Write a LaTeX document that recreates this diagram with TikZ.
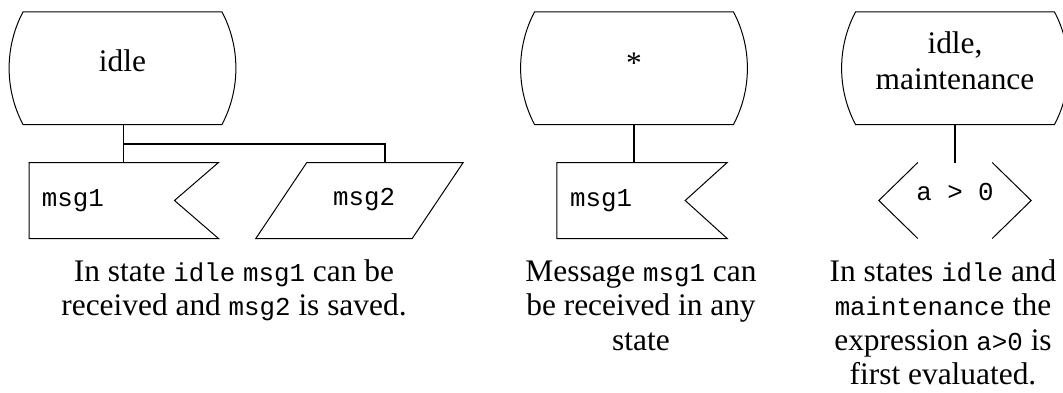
\documentclass[tikz,border=0pt]{standalone}
\usepackage{fontspec}
\setmainfont{Liberation Serif}
\setmonofont{Liberation Mono}
\usetikzlibrary{calc}
\newcommand\code[1]{{\fontsize{25.8}{34.5}\selectfont\ttfamily #1}}
\newcommand\topstrut{\rule{0pt}{24pt}}
\newcommand\drawstate[1]{%
  \draw[outline] (#1.north west)
     .. controls ($(#1.north west)+(-18.66pt,-35.15pt)$) and ($(#1.south west)+(-18.66pt,35.15pt)$) .. (#1.south west)
     -- (#1.south east)
     .. controls ($(#1.south east)+(18.66pt,35.15pt)$) and ($(#1.north east)+(18.66pt,-35.15pt)$) .. (#1.north east)
     -- cycle;}
\newcommand\drawinput[2]{%
  \draw[outline] (#1.north west) -- (#1.north east) -- ($(#1.east)+(-#2pt,0)$)
     -- (#1.south east) -- (#1.south west) -- cycle;}
\tikzset{
  outline/.style={line width=1pt, line join=miter},
  conn/.style={line width=1.2pt},
  statebox/.style={draw=none, inner sep=0pt, minimum width=198.4pt, minimum height=112.5pt},
  sigbox/.style={draw=none, inner sep=0pt, minimum height=75.6pt},
  stxt/.style={inner sep=0pt, font=\fontsize{31.4}{36}\selectfont, align=center},
  ctxt/.style={inner sep=0pt, font=\fontsize{25.8}{30}\selectfont\ttfamily},
  note/.style={inner sep=0pt, anchor=north, font=\fontsize{31.4}{34.5}\selectfont, align=center},
}
\begin{document}
\begin{tikzpicture}[x=1pt, y=-1pt]
\useasboundingbox (0,0) rectangle (1063,392);

% ---- group 1 ----
\node[statebox] (s1) at (122.5,68.2) {};
\drawstate{s1}
\node[stxt, anchor=base] (s1t) at (122.5,71) {idle};
\node[sigbox, minimum width=189pt] (m1) at (123.8,200.5) {};
\drawinput{m1}{44}
\node[ctxt, anchor=base west] (m1t) at (41.7,206) {msg1};
\node[sigbox, minimum width=156pt] (m2) at (359.5,200.5) {};
\draw[outline] ($(m2.north west)+(25.5pt,0)$) -- ($(m2.north east)+(25.5pt,0)$)
   -- ($(m2.south east)+(-25.5pt,0)$) -- ($(m2.south west)+(-25.5pt,0)$) -- cycle;
\coordinate (m2top) at ($(m2.north)+(25.5pt,0)$);
\node[ctxt, anchor=base west] (m2t) at (333,205) {msg2};
\coordinate (j1) at (123.3,144);
\draw[conn] (s1.south -| j1) -- (j1 |- m1.north);
\draw[conn] (j1) -| (m2top);
\node[note] (n1) at (234,257) {\topstrut In state \code{idle} \code{msg1} can be\\received and \code{msg2} is saved.};

% ---- group 2 ----
\node[statebox] (s2) at (634,68.2) {};
\drawstate{s2}
\node[stxt, anchor=base] (s2t) at (634,73) {*};
\node[sigbox, minimum width=170pt] (m3) at (642,200.5) {};
\drawinput{m3}{42}
\node[ctxt, anchor=base west] (m3t) at (570,206) {msg1};
\draw[conn] (s2.south) -- (s2.south |- m3.north);
\node[note] (n2) at (641,257) {\topstrut Message \code{msg1} can\\be received in any\\state};

% ---- group 3 ----
\node[statebox] (s3) at (955,68.2) {};
\drawstate{s3}
\node[stxt, anchor=north] (s3t) at (955,29) {\topstrut idle,\\maintenance};
\node[sigbox, minimum width=152pt] (d3) at (955,200.5) {};
\draw[outline] ($(d3.north west)+(39pt,0)$) -- (d3.west) -- ($(d3.south west)+(39pt,0)$);
\draw[outline] ($(d3.north east)+(-39pt,0)$) -- (d3.east) -- ($(d3.south east)+(-39pt,0)$);
\node[ctxt, anchor=base] (d3t) at (955,200) {a > 0};
\draw[conn] (s3.south) -- (s3.south |- d3.north);
\node[note] (n3) at (943,257) {\topstrut In states \code{idle} and\\\code{maintenance} the\\expression \code{a>0} is\\first evaluated.};
\end{tikzpicture}
\end{document}
